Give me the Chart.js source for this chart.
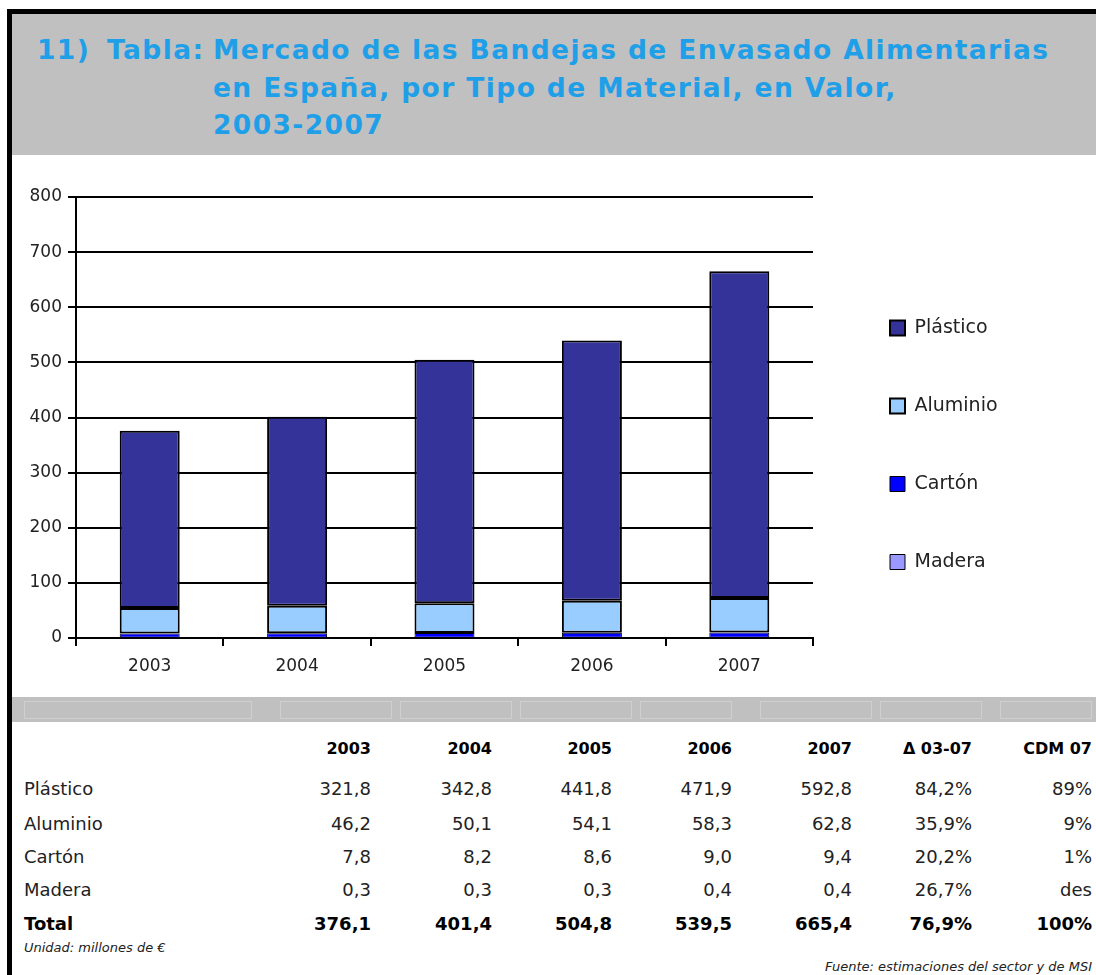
<!DOCTYPE html>
<html>
<head>
<meta charset="utf-8">
<script src="https://cdn.jsdelivr.net/npm/chart.js@4"></script>
<style>
  body { margin: 0; background: #fff; font-family: "DejaVu Sans", sans-serif; }
  #page { position: relative; width: 1096px; height: 975px; overflow: hidden; }
  .frame-top { position: absolute; left: 7px; top: 9px; width: 1089px; height: 5px; background: #000; }
  .frame-left { position: absolute; left: 7px; top: 9px; width: 5px; height: 966px; background: #000; }
  .title-box { position: absolute; left: 12px; top: 14px; width: 1084px; height: 141px; background: #c0c0c0; }
  .title { position: absolute; color: #1f9fe8; font-weight: bold; font-size: 26.5px; letter-spacing: 1.4px; white-space: nowrap; }
  .strip { position: absolute; left: 12px; top: 697px; width: 1084px; height: 25px; background: #c0c0c0; }
  .strip i { position: absolute; top: 4px; height: 16px; border: 1px solid #cfcfcf; }
  #chart-wrap { position: absolute; left: 12px; top: 180px; width: 1084px; height: 515px; }
  .row { position: absolute; left: 0; width: 1096px; height: 24px; font-size: 18px; color: #222; }
  .row span { position: absolute; top: 0; white-space: nowrap; }
  .row .lbl { left: 24px; }
  .row .num { text-align: right; width: 110px; }
  .row.head { font-weight: bold; font-size: 16px; color: #000; }
  .row.total { font-weight: bold; color: #000; }
  .note { position: absolute; font-style: italic; font-size: 13px; color: #222; white-space: nowrap; }
</style>
</head>
<body>
<div id="page">
  <div class="title-box"></div>
  <div class="frame-top"></div>
  <div class="frame-left"></div>
  <div class="title" style="left:37px; top:34px;">11)</div>
  <div class="title" style="left:107px; top:34px;">Tabla:</div>
  <div class="title" style="left:213px; top:34px;">Mercado de las Bandejas de Envasado Alimentarias</div>
  <div class="title" style="left:213px; top:72px;">en España, por Tipo de Material, en Valor,</div>
  <div class="title" style="left:213px; top:109px;">2003-2007</div>

  <div id="chart-wrap"><canvas id="chart"></canvas></div>

  <div class="strip">
    <i style="left:12px; width:226px;"></i>
    <i style="left:268px; width:110px;"></i>
    <i style="left:388px; width:110px;"></i>
    <i style="left:508px; width:110px;"></i>
    <i style="left:628px; width:90px;"></i>
    <i style="left:748px; width:110px;"></i>
    <i style="left:868px; width:100px;"></i>
    <i style="left:988px; width:90px;"></i>
  </div>
  <div id="table"></div>
  <div class="note" style="left:24px; top:940px;">Unidad: millones de €</div>
  <div class="note" style="right:4px; top:959px;">Fuente: estimaciones del sector y de MSI</div>
</div>

<script>
// Data
const years = ['2003', '2004', '2005', '2006', '2007'];
const plastico = [321.8, 342.8, 441.8, 471.9, 592.8];
const aluminio = [46.2, 50.1, 54.1, 58.3, 62.8];
const carton = [7.8, 8.2, 8.6, 9.0, 9.4];
const madera = [0.3, 0.3, 0.3, 0.4, 0.4];
const totals = [376.1, 401.4, 504.8, 539.5, 665.4];
const deltas = ['84,2%', '35,9%', '20,2%', '26,7%', '76,9%'];
const cdm = ['89%', '9%', '1%', 'des', '100%'];

// Series in stacking order (bottom first)
const series = [
    { label: 'Madera', data: madera, color: '#9999ff', border: 1 },
    { label: 'Cartón', data: carton, color: '#0000ff', border: 1 },
    { label: 'Aluminio', data: aluminio, color: '#99ccff', border: 2 },
    { label: 'Plástico', data: plastico, color: '#333399', border: 2 }
];

// Fixed legend width and offset so it sits like the original
const legendPlacer = {
    id: 'legendPlacer',
    beforeInit(chart) {
        const fitLegend = chart.legend.fit;
        chart.legend.fit = function () {
            fitLegend.call(this);
            this.width = 283;
        };
    },
    afterLayout(chart) {
        const lg = chart.legend;
        lg.left += 18;
        lg.right += 18;
        lg.top -= 1;
        lg.bottom -= 1;
    }
};

const tickFont = { family: 'DejaVu Sans', size: 17 };

new Chart(document.getElementById('chart'), {
    type: 'bar',
    data: {
        labels: years,
        datasets: series.map(s => ({
            label: s.label,
            data: s.data,
            backgroundColor: s.color,
            borderColor: '#000',
            borderWidth: s.border,
            borderSkipped: false,
            categoryPercentage: 1,
            barPercentage: 0.407
        }))
    },
    options: {
        responsive: true,
        maintainAspectRatio: false,
        animation: false,
        layout: { padding: { top: 17, left: 0, right: 0, bottom: 0 } },
        plugins: {
            legend: {
                position: 'right',
                reverse: true,
                labels: {
                    font: { family: 'DejaVu Sans', size: 19 },
                    color: '#222',
                    boxWidth: 15,
                    boxHeight: 15,
                    padding: 59
                }
            },
            tooltip: { enabled: false }
        },
        scales: {
            x: {
                stacked: true,
                afterFit(scale) { scale.height = 57; },
                grid: {
                    display: true,
                    drawOnChartArea: false,
                    drawTicks: true,
                    tickLength: 8,
                    color: '#000',
                    lineWidth: 2
                },
                border: { color: '#000', width: 2 },
                ticks: { font: tickFont, color: '#222', padding: 10 }
            },
            y: {
                stacked: true,
                min: 0,
                max: 800,
                afterFit(scale) { scale.width = 64; },
                grid: { color: '#000', lineWidth: 2, tickLength: 8 },
                border: { color: '#000', width: 2 },
                ticks: { stepSize: 100, font: tickFont, color: '#222', padding: 6 }
            }
        }
    },
    plugins: [legendPlacer]
});

// Table below the chart
const colRight = [371, 492, 612, 732, 852, 972, 1092];
const fmt = v => v.toFixed(1).replace('.', ',');
const rows = [
    { cls: 'head', top: 739, label: '', cells: years.concat(['Δ 03-07', 'CDM 07']) },
    { cls: '', top: 778, label: 'Plástico', cells: plastico.map(fmt).concat([deltas[0], cdm[0]]) },
    { cls: '', top: 813, label: 'Aluminio', cells: aluminio.map(fmt).concat([deltas[1], cdm[1]]) },
    { cls: '', top: 846, label: 'Cartón', cells: carton.map(fmt).concat([deltas[2], cdm[2]]) },
    { cls: '', top: 879, label: 'Madera', cells: madera.map(fmt).concat([deltas[3], cdm[3]]) },
    { cls: 'total', top: 913, label: 'Total', cells: totals.map(fmt).concat([deltas[4], cdm[4]]) }
];

const table = document.getElementById('table');
rows.forEach(r => {
    const row = document.createElement('div');
    row.className = 'row ' + r.cls;
    row.style.top = r.top + 'px';
    let html = `<span class="lbl">${r.label}</span>`;
    r.cells.forEach((c, i) => {
        html += `<span class="num" style="left:${colRight[i] - 110}px">${c}</span>`;
    });
    row.innerHTML = html;
    table.appendChild(row);
});
</script>
</body>
</html>
